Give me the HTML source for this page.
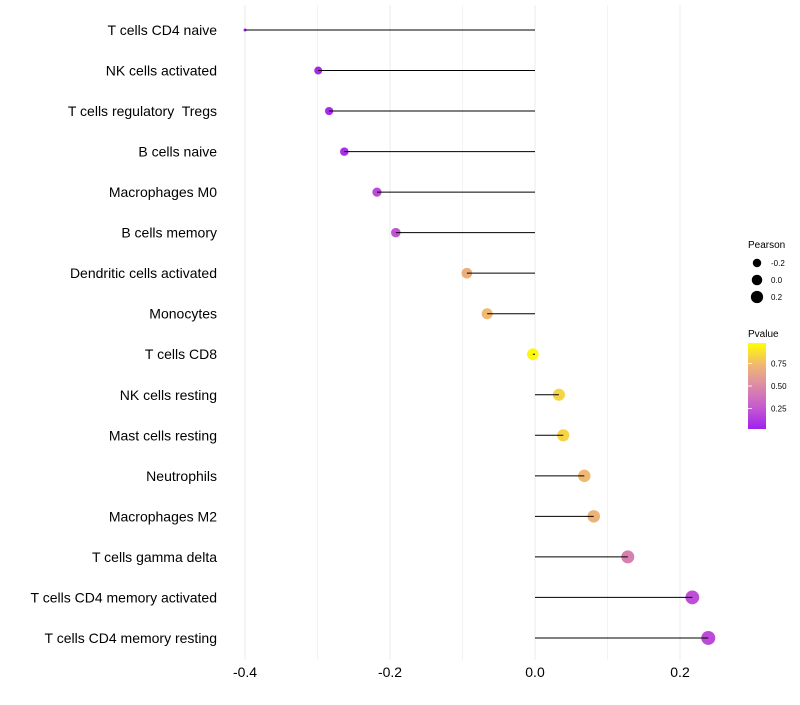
<!DOCTYPE html>
<html><head><meta charset="utf-8"><style>
body{margin:0;background:#fff;font-family:"Liberation Sans",sans-serif}
text{white-space:pre}
</style></head><body>
<svg id="c" width="800" height="700" xmlns="http://www.w3.org/2000/svg">
<g id="grid"></g><g id="marks"></g><g id="stems"></g><g id="ylab"></g><g id="xlab"></g>
<g id="legend">
<text x="748" y="248" font-size="10" fill="#000">Pearson</text>
<text x="748" y="337" font-size="10" fill="#000">Pvalue</text>
<defs><linearGradient id="pg" x1="0" y1="1" x2="0" y2="0">
<stop offset="0" stop-color="#a020f0"/><stop offset="0.25" stop-color="#c55ad0"/><stop offset="0.5" stop-color="#dc8aa8"/><stop offset="0.75" stop-color="#f0b870"/><stop offset="1" stop-color="#ffff00"/></linearGradient></defs>
<rect x="748" y="343" width="18" height="86" fill="url(#pg)"/>
<g id="lg"></g>
</g>
</svg>
<script>
const categories=["T cells CD4 naive","NK cells activated","T cells regulatory  Tregs","B cells naive","Macrophages M0","B cells memory","Dendritic cells activated","Monocytes","T cells CD8","NK cells resting","Mast cells resting","Neutrophils","Macrophages M2","T cells gamma delta","T cells CD4 memory activated","T cells CD4 memory resting"];
const pearson=[-0.4,-0.299,-0.284,-0.263,-0.218,-0.192,-0.094,-0.066,-0.003,0.033,0.039,0.068,0.081,0.128,0.217,0.239];
const pvalue=[0.02,0.04,0.05,0.07,0.18,0.22,0.7,0.75,0.98,0.85,0.85,0.75,0.72,0.45,0.2,0.18];
const xticks=[-0.4,-0.2,0.0,0.2];
const xminor=[-0.3,-0.1,0.1];
const sizeLegend=[-0.2,0.0,0.2];
const cbTicks=[0.25,0.5,0.75];
const NS="http://www.w3.org/2000/svg";
const X=v=>535+v*725, Y=i=>30+i*40.53;
const R=v=>v<=-0.39?1.5:Math.sqrt(16+(v+0.3)*61);
const CB=p=>343+(0.98-p)/0.96*86;
const stops=[[0,[160,32,240]],[0.25,[197,90,208]],[0.5,[220,138,168]],[0.75,[240,184,112]],[1,[255,255,0]]];
function col(p){for(let k=0;k<stops.length-1;k++){const[a,ca]=stops[k],[b,cb]=stops[k+1];if(p<=b){const t=(p-a)/(b-a);return`rgb(${ca.map((c,j)=>Math.round(c+(cb[j]-c)*t)).join(",")})`;}}return"rgb(255,255,0)";}
function mk(t,a,par){const e=document.createElementNS(NS,t);for(const k in a)e.setAttribute(k,a[k]);document.getElementById(par).appendChild(e);return e;}
xminor.forEach(v=>{const l=mk("line",{x1:X(v),x2:X(v),y1:5,y2:660,stroke:"#f3f3f3","stroke-width":1},"grid");

});
xticks.forEach(v=>{const l=mk("line",{x1:X(v),x2:X(v),y1:5,y2:660,stroke:"#ebebeb","stroke-width":1},"grid");


const t=mk("text",{x:X(v),y:677,"font-size":14,"text-anchor":"middle",fill:"#000"},"xlab");t.textContent=v.toFixed(1);

});
categories.forEach((c,i)=>{
const d=mk("circle",{cx:X(pearson[i]),cy:Y(i),r:R(pearson[i]),fill:col(pvalue[i])},"marks");


const l=mk("line",{x1:X(0),x2:X(pearson[i]),y1:Y(i),y2:Y(i),stroke:"#000","stroke-width":1},"stems");


const t=mk("text",{x:217,y:Y(i)+5,"font-size":14,"text-anchor":"end",fill:"#000"},"ylab");t.textContent=c;

});
sizeLegend.forEach((v,k)=>{const y=263+k*17;
const d=mk("circle",{cx:757,cy:y,r:R(v)*0.9,fill:"#000"},"lg");


const t=mk("text",{x:771,y:y+3,"font-size":8,fill:"#000"},"lg");t.textContent=v.toFixed(1);

});
cbTicks.forEach(p=>{const y=CB(p);
const l=mk("line",{x1:748,x2:752,y1:y,y2:y,stroke:"#fff","stroke-width":0.8},"lg");


const t=mk("text",{x:771,y:y+3,"font-size":8,fill:"#000"},"lg");t.textContent=p.toFixed(2);

});
</script>
</body></html>
